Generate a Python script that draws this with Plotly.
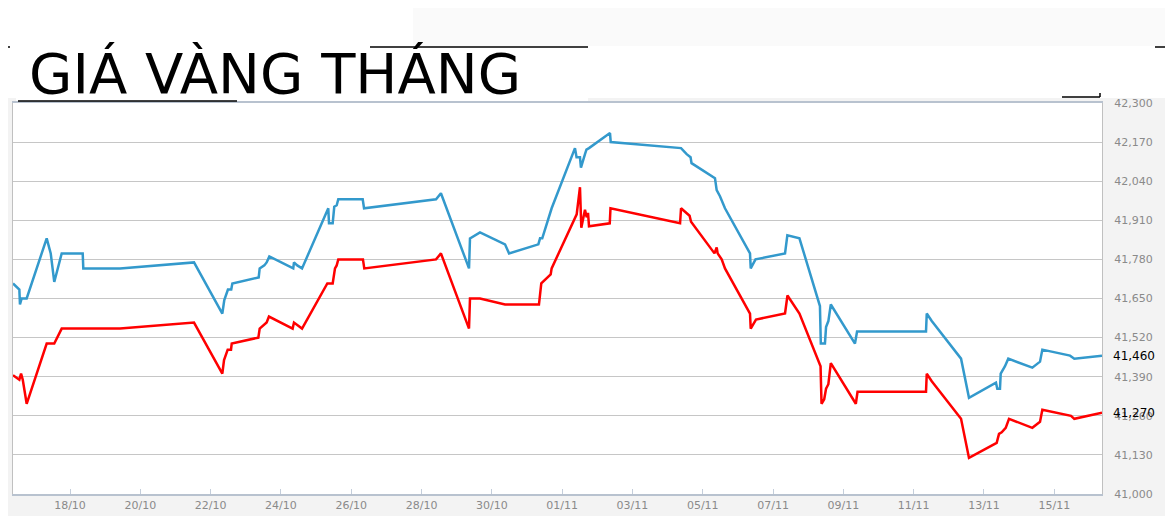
import plotly.graph_objects as go

# giá vàng (nghìn đồng / lượng)
blue_time = [
    "2019-10-16 09:05", "2019-10-16 13:25", "2019-10-16 13:50", "2019-10-16 15:00", "2019-10-16 18:25",
    "2019-10-17 08:05", "2019-10-17 10:50", "2019-10-17 13:15", "2019-10-17 18:20",
    "2019-10-18 08:40", "2019-10-18 09:05", "2019-10-19 10:10", "2019-10-21 12:40",
    "2019-10-22 08:00", "2019-10-22 09:20", "2019-10-22 11:50", "2019-10-22 14:05", "2019-10-22 14:50",
    "2019-10-23 08:50", "2019-10-23 09:30", "2019-10-23 12:40", "2019-10-23 14:15", "2019-10-23 16:05",
    "2019-10-24 08:25", "2019-10-24 08:55", "2019-10-24 11:10", "2019-10-24 14:25",
    "2019-10-25 07:30", "2019-10-25 08:20", "2019-10-25 08:50", "2019-10-25 11:20", "2019-10-25 12:25",
    "2019-10-25 14:05", "2019-10-25 15:10",
    "2019-10-26 07:50", "2019-10-26 08:45", "2019-10-28 09:55", "2019-10-28 13:15",
    "2019-10-29 08:25", "2019-10-29 09:05", "2019-10-29 15:55",
    "2019-10-30 09:00", "2019-10-30 11:45",
    "2019-10-31 07:45", "2019-10-31 08:55", "2019-10-31 10:25", "2019-10-31 16:50",
    "2019-11-01 08:45", "2019-11-01 09:50", "2019-11-01 12:10", "2019-11-01 12:50", "2019-11-01 15:35",
    "2019-11-01 16:35", "2019-11-01 18:20",
    "2019-11-02 08:40", "2019-11-02 09:10",
    "2019-11-04 09:10", "2019-11-04 13:00", "2019-11-04 15:40", "2019-11-04 16:20",
    "2019-11-05 08:20", "2019-11-05 09:30", "2019-11-05 11:45", "2019-11-05 15:10",
    "2019-11-06 08:15", "2019-11-06 08:45", "2019-11-06 12:00",
    "2019-11-07 08:10", "2019-11-07 09:45", "2019-11-07 18:00",
    "2019-11-08 08:00", "2019-11-08 08:35", "2019-11-08 11:25", "2019-11-08 12:10", "2019-11-08 13:45",
    "2019-11-08 15:25",
    "2019-11-09 07:55", "2019-11-09 09:20",
    "2019-11-11 08:25", "2019-11-11 08:55", "2019-11-11 12:20",
    "2019-11-12 08:20", "2019-11-12 13:45",
    "2019-11-13 08:10", "2019-11-13 09:05", "2019-11-13 10:55", "2019-11-13 11:25", "2019-11-13 14:20",
    "2019-11-13 16:35",
    "2019-11-14 09:00", "2019-11-14 14:15", "2019-11-14 15:50",
    "2019-11-15 10:45", "2019-11-15 13:40",
    "2019-11-16 08:34",
]
blue_price = [
    41700, 41680, 41630, 41650, 41650,
    41850, 41800, 41705, 41800,
    41800, 41750, 41750, 41770,
    41600, 41645, 41680, 41680, 41700,
    41720, 41750, 41760, 41770, 41790,
    41750, 41770, 41760, 41750,
    41945, 41950, 41900, 41900, 41955, 41960, 41980,
    41980, 41950, 41980, 42000,
    41750, 41850, 41870,
    41830, 41800,
    41830, 41850, 41850, 41950,
    42150, 42120, 42120, 42085, 42130, 42145, 42150,
    42200, 42170,
    42150, 42130, 42120, 42100,
    42050, 42010, 41990, 41950,
    41800, 41750, 41780,
    41800, 41860, 41850,
    41625, 41500, 41500, 41555, 41575, 41630,
    41500, 41540,
    41540, 41600, 41575,
    41450, 41320,
    41370, 41350, 41350, 41400, 41425, 41450,
    41420, 41440, 41480,
    41460, 41450,
    41460,
]

red_time = [
    "2019-10-16 09:05", "2019-10-16 13:25", "2019-10-16 14:35", "2019-10-16 15:45", "2019-10-16 18:25",
    "2019-10-17 08:05", "2019-10-17 13:15", "2019-10-17 18:20",
    "2019-10-19 10:10", "2019-10-21 12:40",
    "2019-10-22 08:00", "2019-10-22 09:10", "2019-10-22 11:40", "2019-10-22 13:55", "2019-10-22 14:25",
    "2019-10-23 08:35", "2019-10-23 09:30", "2019-10-23 12:00", "2019-10-23 14:15", "2019-10-23 15:50",
    "2019-10-24 08:00", "2019-10-24 08:55", "2019-10-24 14:25",
    "2019-10-25 07:40", "2019-10-25 11:20", "2019-10-25 12:55", "2019-10-25 14:05", "2019-10-25 15:10",
    "2019-10-26 08:00", "2019-10-26 08:55",
    "2019-10-28 09:55", "2019-10-28 13:15",
    "2019-10-29 08:25", "2019-10-29 09:05", "2019-10-29 15:55",
    "2019-10-30 09:00",
    "2019-10-31 08:10", "2019-10-31 09:45", "2019-10-31 16:10", "2019-10-31 16:50",
    "2019-11-01 08:45", "2019-11-01 09:55", "2019-11-01 12:10", "2019-11-01 13:05", "2019-11-01 15:35",
    "2019-11-01 16:45", "2019-11-01 17:40", "2019-11-01 18:20",
    "2019-11-02 08:30", "2019-11-02 09:00",
    "2019-11-04 08:30", "2019-11-04 09:10", "2019-11-04 15:00", "2019-11-04 16:00",
    "2019-11-05 08:00", "2019-11-05 09:30", "2019-11-05 10:10", "2019-11-05 12:55", "2019-11-05 15:10",
    "2019-11-06 08:15", "2019-11-06 08:45", "2019-11-06 12:20",
    "2019-11-07 08:10", "2019-11-07 09:50", "2019-11-07 18:00",
    "2019-11-08 08:25", "2019-11-08 09:05", "2019-11-08 10:55", "2019-11-08 12:10", "2019-11-08 13:45",
    "2019-11-08 15:25",
    "2019-11-09 08:30", "2019-11-09 09:40",
    "2019-11-11 08:25", "2019-11-11 08:55", "2019-11-11 12:20",
    "2019-11-12 08:20", "2019-11-12 13:45",
    "2019-11-13 08:40", "2019-11-13 10:15", "2019-11-13 12:05", "2019-11-13 14:50", "2019-11-13 17:05",
    "2019-11-14 09:00", "2019-11-14 14:15", "2019-11-14 15:50",
    "2019-11-15 11:25", "2019-11-15 13:40",
    "2019-11-16 08:34",
]
red_price = [
    41395, 41380, 41400, 41380, 41300,
    41500, 41500, 41550,
    41550, 41570,
    41400, 41445, 41480, 41480, 41500,
    41520, 41550, 41560, 41570, 41590,
    41550, 41570, 41550,
    41700, 41700, 41750, 41760, 41780,
    41780, 41750,
    41780, 41800,
    41550, 41650, 41650,
    41630,
    41630, 41700, 41730, 41750,
    41920, 41930, 42020, 41885, 41945, 41920, 41935, 41890,
    41900, 41950,
    41900, 41950, 41925, 41905,
    41800, 41820, 41800, 41780, 41750,
    41600, 41550, 41580,
    41600, 41660, 41600,
    41425, 41300, 41315, 41350, 41365, 41435,
    41300, 41340,
    41340, 41400, 41375,
    41250, 41120,
    41170, 41200, 41205, 41220, 41250,
    41220, 41240, 41280,
    41260, 41250,
    41270,
]

y_ticks = [41000, 41130, 41260, 41390, 41520, 41650, 41780, 41910, 42040, 42170, 42300]
title = "GIÁ VÀNG THÁNG"

# the page body adds an 8px margin, so the figure is drawn 8px smaller and
# every pixel position below is given in screenshot coordinates
OFF = 8
W, H = 1173 - OFF, 516 - OFF
L, R, T, B = 13, 1102, 103, 494


# screenshot pixel -> paper coords, for the decorations only
def px(x):
    return (x - L) / (R - L)


def py(y):
    return (B - y) / (B - T)


fig = go.Figure()
fig.add_trace(go.Scatter(x=blue_time, y=blue_price, mode="lines",
                         line=dict(color="#3399cc", width=2.5), name="Mua"))
fig.add_trace(go.Scatter(x=red_time, y=red_price, mode="lines",
                         line=dict(color="#ff0000", width=2.5), name="Bán"))

shapes = [
    # white strip behind the title
    dict(type="rect", xref="paper", yref="paper", x0=px(OFF), x1=px(1173), y0=py(98), y1=py(OFF),
         fillcolor="#ffffff", line=dict(width=0), layer="below"),
    dict(type="rect", xref="paper", yref="paper", x0=px(413), x1=px(1173), y0=py(46), y1=py(OFF),
         fillcolor="#fafafa", line=dict(width=0), layer="below"),
    dict(type="rect", xref="paper", yref="paper", x0=px(16), x1=px(588), y0=py(101), y1=py(48),
         fillcolor="#ffffff", line=dict(width=0), layer="below"),
]
black_lines = [
    (OFF, 47, 10, 47), (370, 47, 588, 47), (1155, 47, 1173, 47),
    (18, 101, 237, 101), (1062, 97, 1100, 97), (1100, 93, 1100, 97),
]
for x0, y0, x1, y1 in black_lines:
    shapes.append(dict(type="line", xref="paper", yref="paper",
                       x0=px(x0), y0=py(y0), x1=px(x1), y1=py(y1),
                       line=dict(color="#000000", width=1.5)))

annotations = [
    dict(text=title, xref="paper", yref="paper", x=px(27), y=py(74), xanchor="left", yanchor="middle",
         showarrow=False, font=dict(family="DejaVu Sans", size=56, color="#000000")),
]
for val in (blue_price[-1], red_price[-1]):
    annotations.append(dict(text=f"{val:,}", xref="paper", yref="y", x=1, y=val, xanchor="left",
                            xshift=9, showarrow=False,
                            font=dict(family="DejaVu Sans", size=12, color="#000000")))

fig.update_layout(
    width=W, height=H,
    margin=dict(l=L - OFF, r=1173 - R, t=T - OFF, b=516 - B, autoexpand=False),
    paper_bgcolor="#f3f3f3",
    plot_bgcolor="#ffffff",
    showlegend=False,
    shapes=shapes,
    annotations=annotations,
    font=dict(family="DejaVu Sans", size=11, color="#8a8a8a"),
)
fig.update_xaxes(
    type="date", range=["2019-10-16 09:05", "2019-11-16 08:34"], automargin=False,
    tick0="2019-10-18", dtick=2 * 86400000, tickformat="%d/%m",
    ticks="inside", ticklen=5, tickcolor="#c4cedb",
    showgrid=False, showline=True, linecolor="#b8c2cf", linewidth=1.5, mirror=True,
    tickfont=dict(color="#8a8a8a", size=11),
)
fig.update_yaxes(
    range=[41000, 42300], tickvals=y_ticks, tickformat=",d", side="right", automargin=False,
    showgrid=True, gridcolor="#c6c6c6", gridwidth=1,
    showline=True, linecolor="#c0c0c0", linewidth=1, mirror=True,
    zeroline=False, ticks="", ticklabelstandoff=9,
    tickfont=dict(color="#8a8a8a", size=11),
)

fig.write_html("out.html")
